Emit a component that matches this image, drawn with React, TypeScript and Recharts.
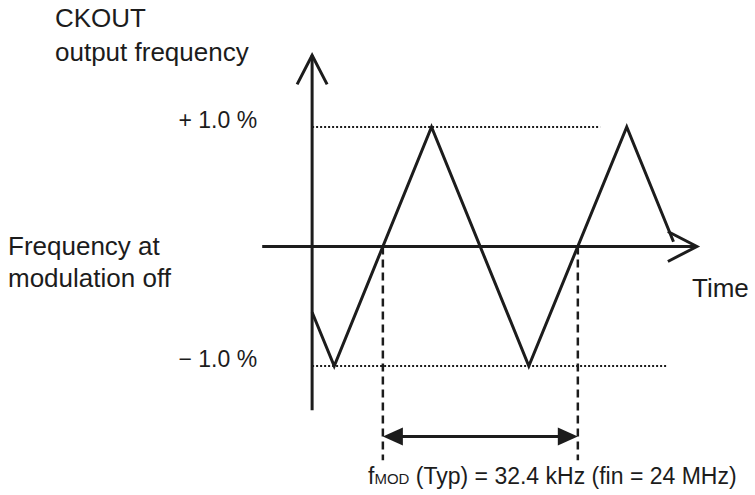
import { LineChart, Line, XAxis, YAxis, ReferenceLine } from 'recharts';

// Spread-spectrum triangle modulation of CKOUT (time in µs, deviation in %)
const waveTimeUs = [0, 3.5, 18.9, 34.3, 49.8, 57.2];
const waveFreqPct = [-0.55, -1.0, 1.0, -1.0, 1.0, 0.04];

const levelPct = [1.0, -1.0];
const levelLabels = ['+ 1.0 %', '\u2212 1.0 %'];
const levelEndUs = [45.6, 56.3];

// rising zero crossings, one modulation period apart (1 / 32.4 kHz)
const crossingUs = [11.2, 42.06];

const W = 755;
const H = 495;
const ink = '#1c1c1c';
const font = '"Liberation Sans", Arial, Helvetica, sans-serif';

// axis extents and annotation rows, in data units
const timeAxis = [-7.9, 60.9];
const freqAxis = [-1.37, 1.6];
const dashBottom = -1.79;
const spanRow = -1.59;

const waveData = waveTimeUs.map((t, i) => ({ t, f: waveFreqPct[i] }));

function OpenArrow(props: any) {
  const { x1, y1, x2, y2 } = props;
  const a = Math.atan2(y2 - y1, x2 - x1);
  const len = 29;
  const half = 15;
  const bx = x2 - len * Math.cos(a);
  const by = y2 - len * Math.sin(a);
  const px = -Math.sin(a) * half;
  const py = Math.cos(a) * half;
  return (
    <g>
      <line x1={x1} y1={y1} x2={x2} y2={y2} stroke={ink} strokeWidth={3} />
      <polyline
        points={`${bx + px},${by + py} ${x2},${y2} ${bx - px},${by - py}`}
        fill="none"
        stroke={ink}
        strokeWidth={3}
        strokeLinejoin="miter"
      />
    </g>
  );
}

function DoubleArrow(props: any) {
  const { x1, y1, x2, y2 } = props;
  const len = 20;
  const half = 9;
  return (
    <g>
      <line x1={x1 + 4} y1={y1} x2={x2 - 4} y2={y2} stroke={ink} strokeWidth={3} />
      <polygon points={`${x1},${y1} ${x1 + len},${y1 - half} ${x1 + len},${y1 + half}`} fill={ink} />
      <polygon points={`${x2},${y2} ${x2 - len},${y2 - half} ${x2 - len},${y2 + half}`} fill={ink} />
    </g>
  );
}

function levelLabel(text: string) {
  return (props: any) => {
    const vb = props.viewBox || {};
    return (
      <text x={vb.x - 55} y={vb.y + 1} textAnchor="end" fontSize={23} fontFamily={font} fill={ink}>
        {text}
      </text>
    );
  };
}

export default function App() {
  return (
    <div style={{ position: 'relative', width: W, height: H, background: '#fff' }}>
      <style>{'body{margin:0}'}</style>
      <LineChart width={W} height={H} data={waveData} margin={{ top: 0, right: 0, bottom: 0, left: 0 }}>
        <XAxis dataKey="t" type="number" domain={[-49.4, 70.1]} hide allowDataOverflow />
        <YAxis type="number" domain={[-2.08, 2.063]} hide allowDataOverflow />

        {levelPct.map((lvl, i) => (
          <ReferenceLine
            key={`lvl-${i}`}
            segment={[
              { x: 0, y: lvl },
              { x: levelEndUs[i], y: lvl },
            ]}
            stroke={ink}
            strokeWidth={2}
            strokeDasharray="2 2"
            label={levelLabel(levelLabels[i])}
          />
        ))}

        {crossingUs.map((c, i) => (
          <ReferenceLine
            key={`cross-${i}`}
            segment={[
              { x: c, y: 0 },
              { x: c, y: dashBottom },
            ]}
            stroke={ink}
            strokeWidth={2.5}
            strokeDasharray="8 5"
          />
        ))}

        <ReferenceLine
          segment={[
            { x: timeAxis[0], y: 0 },
            { x: timeAxis[1], y: 0 },
          ]}
          shape={OpenArrow}
        />
        <ReferenceLine
          segment={[
            { x: 0, y: freqAxis[0] },
            { x: 0, y: freqAxis[1] },
          ]}
          shape={OpenArrow}
        />
        <ReferenceLine
          segment={[
            { x: crossingUs[0], y: spanRow },
            { x: crossingUs[1], y: spanRow },
          ]}
          shape={DoubleArrow}
        />

        <Line
          dataKey="f"
          type="linear"
          stroke={ink}
          strokeWidth={3}
          strokeLinejoin="miter"
          strokeLinecap="butt"
          dot={false}
          activeDot={false}
          isAnimationActive={false}
        />
      </LineChart>

      <svg
        width={W}
        height={H}
        style={{ position: 'absolute', left: 0, top: 0, pointerEvents: 'none' }}
        fontFamily={font}
        fill={ink}
      >
        <text x={55} y={27} fontSize={26}>CKOUT</text>
        <text x={55} y={61} fontSize={26}>output frequency</text>
        <text x={8} y={255} fontSize={26}>Frequency at</text>
        <text x={8} y={287} fontSize={26}>modulation off</text>
        <text x={692} y={297} fontSize={26}>Time</text>
        <text x={368} y={484} fontSize={23}>
          <tspan>f</tspan>
          <tspan fontSize={15}>MOD</tspan>
          <tspan> (Typ) = 32.4 kHz (fin = 24 MHz)</tspan>
        </text>
      </svg>
    </div>
  );
}
